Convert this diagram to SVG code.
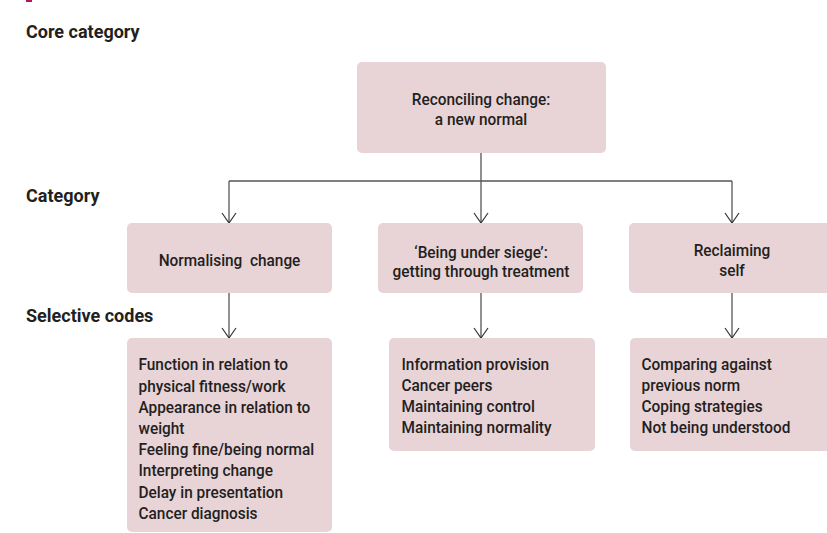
<svg xmlns="http://www.w3.org/2000/svg" width="827" height="533" viewBox="0 0 827 533">
<defs>
<style>
.box{fill:#e8d3d7;}
.t{font-family:Roboto,"Liberation Sans",sans-serif;font-size:17px;font-weight:500;fill:#231f20;}
.h{font-family:Roboto,"Liberation Sans",sans-serif;font-size:18px;font-weight:bold;fill:#231f20;}
.c{stroke:#555;stroke-width:1.3;fill:none;}
</style>
<marker id="arr" viewBox="-11 -8 12 16" refX="0" refY="0" markerWidth="12" markerHeight="16" markerUnits="userSpaceOnUse" orient="auto">
<path d="M-10,-7 L0,0 L-10,7" fill="none" stroke="#333" stroke-width="1.2"/>
</marker>
</defs>
<rect x="26" y="0" width="6" height="2" fill="#b0165a"/>
<g id="labels">
<text class="h" x="26" y="37.5">Core category</text>
<text class="h" x="26" y="202">Category</text>
<text class="h" x="26" y="321.5">Selective codes</text>
</g>
<g id="connectors">
<path class="c" d="M481,153 V181 M229,181 H732"/>
<line class="c" x1="229" y1="181" x2="229" y2="223" marker-end="url(#arr)"/>
<line class="c" x1="481" y1="181" x2="481" y2="223" marker-end="url(#arr)"/>
<line class="c" x1="732" y1="181" x2="732" y2="223" marker-end="url(#arr)"/>
<line class="c" x1="229" y1="293" x2="229" y2="338" marker-end="url(#arr)"/>
<line class="c" x1="481" y1="293" x2="481" y2="338" marker-end="url(#arr)"/>
<line class="c" x1="732" y1="293" x2="732" y2="338" marker-end="url(#arr)"/>
</g>
<g id="core">
<rect class="box" x="357" y="62" width="249" height="91" rx="5"/>
<g transform="translate(481,0) scale(0.905,1)"><text class="t" text-anchor="middle"><tspan x="0" y="105.5">Reconciling change:</tspan><tspan x="0" y="125.5">a new normal</tspan></text></g>
</g>
<g id="cat-normalising">
<rect class="box" x="127" y="223" width="205" height="70" rx="5"/>
<g transform="translate(229.5,0) scale(0.905,1)"><text class="t" text-anchor="middle" x="0" y="266.5">Normalising&#160; change</text></g>
</g>
<g id="cat-siege">
<rect class="box" x="378" y="223" width="205" height="70" rx="5"/>
<g transform="translate(481,0) scale(0.905,1)"><text class="t" text-anchor="middle"><tspan x="0" y="258">‘Being under siege’:</tspan><tspan x="0" y="277.5">getting through treatment</tspan></text></g>
</g>
<g id="cat-reclaiming">
<rect class="box" x="629" y="223" width="210" height="70" rx="5"/>
<g transform="translate(732,0) scale(0.905,1)"><text class="t" text-anchor="middle"><tspan x="0" y="256.5">Reclaiming</tspan><tspan x="0" y="276">self</tspan></text></g>
</g>
<g id="codes-normalising">
<rect class="box" x="127" y="338" width="205" height="194" rx="5"/>
<g transform="translate(138.5,0) scale(0.905,1)"><text class="t">
<tspan x="0" y="370.5">Function in relation to</tspan>
<tspan x="0" y="391.7">physical fitness/work</tspan>
<tspan x="0" y="412.9">Appearance in relation to</tspan>
<tspan x="0" y="434.1">weight</tspan>
<tspan x="0" y="455.3">Feeling fine/being normal</tspan>
<tspan x="0" y="476.5">Interpreting change</tspan>
<tspan x="0" y="497.7">Delay in presentation</tspan>
<tspan x="0" y="518.9">Cancer diagnosis</tspan>
</text></g>
</g>
<g id="codes-siege">
<rect class="box" x="389" y="338" width="206" height="113" rx="5"/>
<g transform="translate(401.5,0) scale(0.905,1)"><text class="t">
<tspan x="0" y="370.5">Information provision</tspan>
<tspan x="0" y="391.4">Cancer peers</tspan>
<tspan x="0" y="412.3">Maintaining control</tspan>
<tspan x="0" y="433.2">Maintaining normality</tspan>
</text></g>
</g>
<g id="codes-reclaiming">
<rect class="box" x="630" y="338" width="210" height="113" rx="5"/>
<g transform="translate(641.5,0) scale(0.905,1)"><text class="t">
<tspan x="0" y="370.5">Comparing against</tspan>
<tspan x="0" y="391.4">previous norm</tspan>
<tspan x="0" y="412.3">Coping strategies</tspan>
<tspan x="0" y="433.2">Not being understood</tspan>
</text></g>
</g>
</svg>
